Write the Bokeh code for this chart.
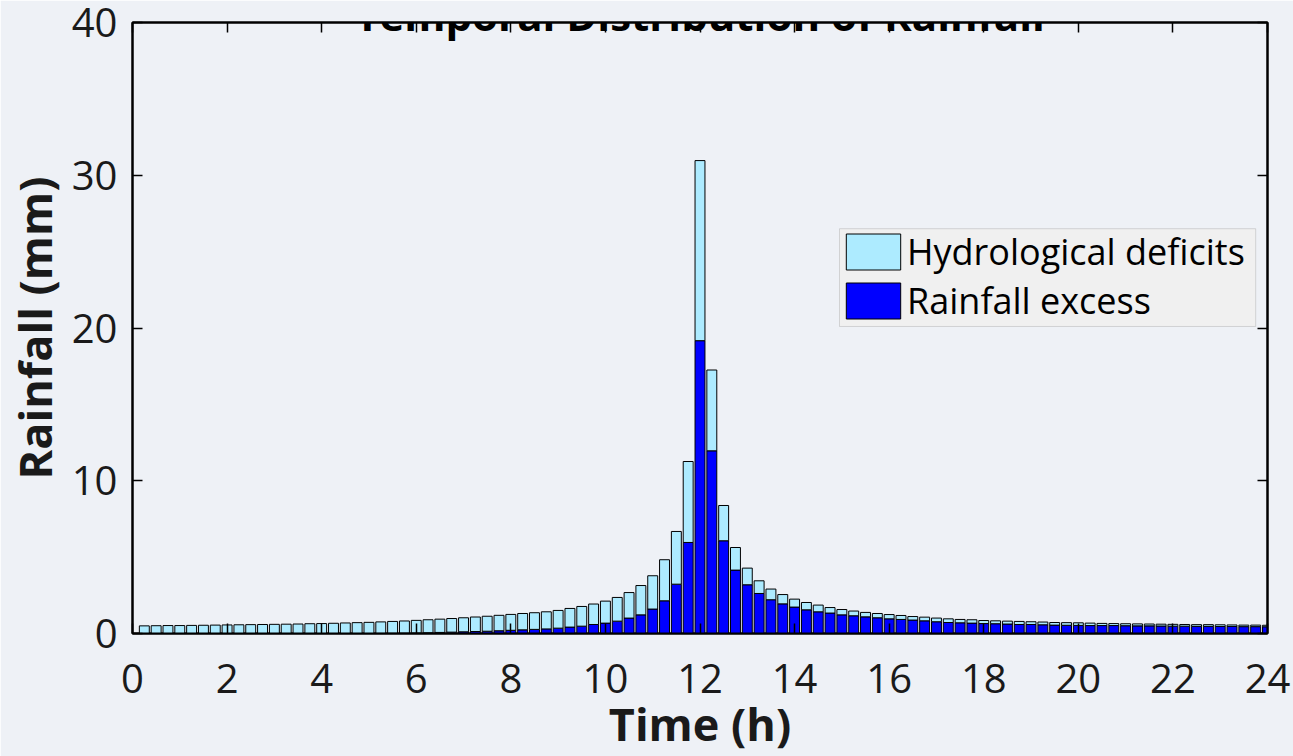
from bokeh.plotting import figure
from bokeh.models import (ColumnDataSource, Range1d, FixedTicker, LinearAxis, Legend,
                          LegendItem, Label, CustomJSTickFormatter, BoxAnnotation)
from bokeh.embed import file_html
from bokeh.resources import INLINE

# ---------------- data ----------------
time_h = [0.25, 0.5, 0.75, 1.0, 1.25, 1.5, 1.75, 2.0, 2.25, 2.5, 2.75, 3.0, 3.25, 3.5, 3.75, 4.0,
          4.25, 4.5, 4.75, 5.0, 5.25, 5.5, 5.75, 6.0, 6.25, 6.5, 6.75, 7.0, 7.25, 7.5, 7.75, 8.0,
          8.25, 8.5, 8.75, 9.0, 9.25, 9.5, 9.75, 10.0, 10.25, 10.5, 10.75, 11.0, 11.25, 11.5, 11.75, 12.0,
          12.25, 12.5, 12.75, 13.0, 13.25, 13.5, 13.75, 14.0, 14.25, 14.5, 14.75, 15.0, 15.25, 15.5, 15.75, 16.0,
          16.25, 16.5, 16.75, 17.0, 17.25, 17.5, 17.75, 18.0, 18.25, 18.5, 18.75, 19.0, 19.25, 19.5, 19.75, 20.0,
          20.25, 20.5, 20.75, 21.0, 21.25, 21.5, 21.75, 22.0, 22.25, 22.5, 22.75, 23.0, 23.25, 23.5, 23.75, 24.0]

total_rainfall = [0.50, 0.51, 0.52, 0.52, 0.53, 0.54, 0.55, 0.56, 0.57, 0.58, 0.59, 0.60, 0.61, 0.62, 0.64, 0.65,
                  0.67, 0.69, 0.71, 0.73, 0.76, 0.79, 0.82, 0.86, 0.90, 0.94, 0.98, 1.03, 1.08, 1.13, 1.19, 1.25,
                  1.31, 1.36, 1.42, 1.51, 1.64, 1.77, 1.93, 2.12, 2.36, 2.68, 3.14, 3.78, 4.83, 6.68, 11.26, 30.96,
                  17.25, 8.38, 5.63, 4.28, 3.45, 2.91, 2.55, 2.25, 2.03, 1.86, 1.70, 1.57, 1.47, 1.38, 1.31, 1.24,
                  1.18, 1.11, 1.07, 1.01, 0.96, 0.92, 0.90, 0.85, 0.83, 0.81, 0.79, 0.77, 0.75, 0.72, 0.71, 0.70,
                  0.68, 0.66, 0.65, 0.64, 0.63, 0.62, 0.61, 0.60, 0.59, 0.58, 0.58, 0.57, 0.56, 0.55, 0.55, 0.54]

rainfall_excess = [0, 0, 0, 0, 0, 0, 0, 0, 0, 0, 0, 0, 0, 0, 0, 0,
                   0, 0, 0, 0, 0.01, 0.02, 0.03, 0.04, 0.05, 0.07, 0.09, 0.11, 0.13, 0.15, 0.18, 0.21,
                   0.24, 0.27, 0.30, 0.35, 0.42, 0.48, 0.59, 0.68, 0.81, 1.01, 1.22, 1.60, 2.14, 3.23, 5.96, 19.17,
                   11.96, 6.07, 4.15, 3.19, 2.62, 2.21, 1.94, 1.73, 1.55, 1.42, 1.34, 1.22, 1.16, 1.09, 1.03, 0.96,
                   0.92, 0.88, 0.83, 0.77, 0.72, 0.70, 0.68, 0.65, 0.64, 0.62, 0.59, 0.59, 0.57, 0.55, 0.54, 0.53,
                   0.52, 0.52, 0.52, 0.51, 0.50, 0.50, 0.49, 0.48, 0.48, 0.47, 0.47, 0.46, 0.46, 0.45, 0.45, 0.44]

x_ticks = [0, 2, 4, 6, 8, 10, 12, 14, 16, 18, 20, 22, 24]
y_ticks = [0, 10, 20, 30, 40]

title_text = "Temporal Distribution of Rainfall"
x_label = "Time (h)"
y_label = "Rainfall (mm)"
series_names = ["Hydrological deficits", "Rainfall excess"]

# ---------------- style ----------------
BG = "#eef1f6"
LIGHT = "#adebff"
DARK = "#0000ff"
FONT = "Open Sans"

src = ColumnDataSource(dict(t=time_h, total=total_rainfall, excess=rainfall_excess))

p = figure(width=1293, height=756, output_backend="svg", toolbar_location=None,
           x_range=Range1d(0, 24), y_range=Range1d(0, 40),
           min_border_left=129, min_border_right=26, min_border_top=22, min_border_bottom=123)
p.background_fill_color = BG
p.border_fill_color = BG
p.outline_line_color = "black"
p.outline_line_width = 2
p.grid.visible = False

r_exc = p.vbar(x="t", width=0.21, bottom=0, top="excess", source=src,
               fill_color=DARK, line_color="black", line_width=1)
r_def = p.vbar(x="t", width=0.21, bottom="excess", top="total", source=src,
               fill_color=LIGHT, line_color="black", line_width=1)

def style_axis(ax):
    ax.axis_line_color = "black"
    ax.axis_line_width = 2
    ax.major_tick_in = 10
    ax.major_tick_out = 0
    ax.major_tick_line_color = "black"
    ax.major_tick_line_width = 1.5
    ax.minor_tick_line_color = None
    ax.major_label_text_font = FONT
    ax.major_label_text_font_size = "40px"
    ax.major_label_text_color = "#1a1a1a"
    ax.axis_label_text_font = FONT
    ax.axis_label_text_font_size = "45px"
    ax.axis_label_text_font_style = "bold"
    ax.axis_label_text_color = "#1a1a1a"

xa = p.xaxis[0]
ya = p.yaxis[0]
xa.ticker = FixedTicker(ticks=x_ticks)
ya.ticker = FixedTicker(ticks=y_ticks)
style_axis(xa)
style_axis(ya)
xa.axis_label = x_label
ya.axis_label = y_label
xa.major_label_standoff = 30
ya.major_label_standoff = 15
xa.axis_label_standoff = -3
ya.axis_label_standoff = 4

blank = CustomJSTickFormatter(code="return '';")
top_ax = LinearAxis(ticker=FixedTicker(ticks=x_ticks), formatter=blank)
right_ax = LinearAxis(ticker=FixedTicker(ticks=y_ticks), formatter=blank)
for ax in (top_ax, right_ax):
    style_axis(ax)
    ax.major_label_standoff = 0
    ax.major_label_text_font_size = "1px"
p.add_layout(top_ax, "above")
p.add_layout(right_ax, "right")

# legend frame (drawn as a box in data units behind the legend entries)
legend_box = BoxAnnotation(left=14.95, right=23.75, bottom=20.1, top=26.5,
                           fill_color="#f0f0f0", fill_alpha=1,
                           line_color="#8c8c8c", line_width=1, level="annotation")
p.add_layout(legend_box)

legend = Legend(items=[LegendItem(label=series_names[0], renderers=[r_def]),
                       LegendItem(label=series_names[1], renderers=[r_exc])],
                location=(707, 308))
legend.background_fill_alpha = 0
legend.border_line_color = None
legend.label_text_font = FONT
legend.label_text_font_size = "36px"
legend.label_text_color = "black"
legend.glyph_width = 68
legend.glyph_height = 45
legend.label_height = 36
legend.spacing = -3
legend.padding = 0
legend.margin = 0
legend.label_standoff = 0
p.add_layout(legend, "center")

title = Label(x=12, y=40.52, text=title_text, text_align="center", text_baseline="alphabetic",
              text_font=FONT, text_font_size="42px", text_font_style="bold", text_color="black")
p.add_layout(title)

open("out.html", "w").write(file_html(p, INLINE))
